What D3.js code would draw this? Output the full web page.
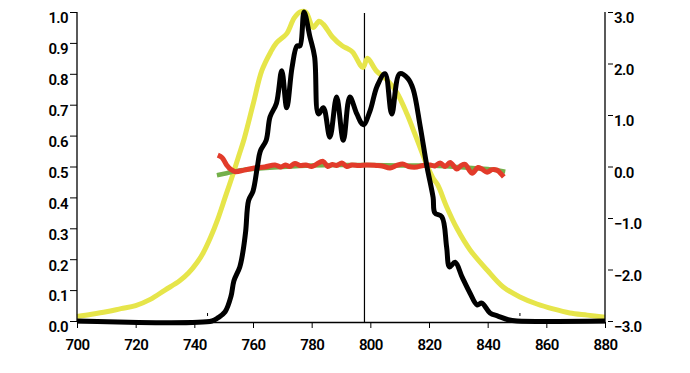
<!DOCTYPE html>
<html><head><meta charset="utf-8">
<script src="https://cdn.jsdelivr.net/npm/d3@7"></script>
<style>
html,body{margin:0;padding:0;background:#fff;}
svg text{font-family:Roboto,"Noto Sans",sans-serif;font-weight:600;font-size:15px;fill:#000;letter-spacing:-0.6px;}
</style></head>
<body>
<svg id="c" width="690" height="373"></svg>
<script>
// ---- data ----
const xTicks = [700,720,740,760,780,800,820,840,860,880];
const leftTicks = [0,0.1,0.2,0.3,0.4,0.5,0.6,0.7,0.8,0.9,1.0];
const rightTicks = [-3,-2,-1,0,1,2,3];
const markerLineWl = 798;
const smallMarkWl = [744.5, 851];

const yellowWl = [700,705,710,715,720,725,730,735,738,741,743,745.5,748,750.5,753,755,757,760,763,766,768,771.5,774,776,778,780.5,782.5,784,787,790.5,792.5,794,797.5,799,802,805.7,809,812.5,815,817,819.5,821.5,823,826,829.5,834,839.8,845.3,851,856.8,862.3,868,874,880];
const yellowVal = [0.015,0.022,0.03,0.04,0.05,0.07,0.10,0.13,0.155,0.19,0.22,0.27,0.33,0.40,0.47,0.53,0.59,0.70,0.81,0.87,0.90,0.93,0.98,1.0,1.0,0.95,0.97,0.96,0.92,0.89,0.88,0.87,0.82,0.85,0.81,0.78,0.74,0.67,0.61,0.56,0.50,0.46,0.44,0.37,0.30,0.23,0.165,0.11,0.078,0.055,0.039,0.026,0.019,0.012];

const blackWl = [700,746,748,750.5,752.5,753.5,755.5,756.5,757.5,758.5,760,761.5,762.5,764.5,765.8,768,769.8,771.5,773.3,775,776,777.4,779.4,781,782.3,784,786.2,788.5,790.8,793,795.4,797.6,799.9,802.3,805,807.3,810,812.8,814.6,817,819.3,821.4,822,824.4,826,827,828.9,831.3,834,836.4,838,840.8,843.5,847,850,880];
const blackVal = [0,0,0.01,0.03,0.08,0.13,0.175,0.22,0.29,0.39,0.42,0.50,0.55,0.585,0.66,0.705,0.81,0.69,0.82,0.89,0.89,1.0,0.92,0.855,0.67,0.69,0.595,0.725,0.585,0.725,0.67,0.635,0.68,0.76,0.80,0.67,0.80,0.785,0.75,0.63,0.50,0.40,0.35,0.337,0.24,0.175,0.19,0.142,0.09,0.052,0.058,0.026,0.016,0.004,0,0];

const greenWl = [747.7,751,755,760,770,780,790,800,810,820,830,840,846];
const greenVal = [-0.17,-0.13,-0.08,-0.05,-0.01,0.02,0.03,0.03,0.02,0.02,-0.01,-0.05,-0.1];

const redWl = [748,749.5,751,752.5,754,757,760.5,764,767.5,769.5,771,772.5,774.3,776,778,780,781.5,783.9,785.5,787,788.5,790.3,792,793.7,796,798.8,802,804,806.7,809,811,813,815.9,818,820.4,822,823.8,825.5,827.2,829.5,831,832.3,834.7,836.7,838,839.8,841.5,843.2,844.2,845.5];
const redVal = [0.22,0.17,0.03,-0.06,-0.1,-0.07,-0.03,-0.01,0.03,-0.01,0.03,0.0,0.06,0.02,0.03,0.0,0.04,0.1,0.0,0.04,0.02,0.07,0.0,0.03,0.02,0.03,0.02,0.01,-0.03,0.02,0.05,0.0,-0.01,0.02,0.03,0.01,0.07,0.0,0.08,-0.05,0.02,0.04,-0.13,-0.02,-0.05,-0.11,-0.06,-0.07,-0.12,-0.2];

// ---- layout ----
const L = 77, R = 605, T = 12, B = 321;
const svg = d3.select("#c");
svg.append("rect").attr("width",690).attr("height",373).attr("fill","#fff");

const x = d3.scaleLinear().domain([700,880]).range([L,R]);
const yL = d3.scaleLinear().domain([0,1]).range([B,T]);
const yR = d3.scaleLinear().domain([-3,3]).range([B,T]);

function zip(a,b){return a.map((v,i)=>[v,b[i]]);}

// vertical marker line
svg.append("line").attr("x1",x(markerLineWl)).attr("x2",x(markerLineWl))
  .attr("y1",T+1).attr("y2",B+1).attr("stroke","#000").attr("stroke-width",1.2);

const lineL = d3.line().x(d=>x(d[0])).y(d=>yL(d[1])).curve(d3.curveCatmullRom.alpha(0.5));
const lineR = d3.line().x(d=>x(d[0])).y(d=>yR(d[1])).curve(d3.curveCatmullRom.alpha(0.5));

svg.append("path").datum(zip(yellowWl,yellowVal)).attr("d",lineL)
  .attr("fill","none").attr("stroke","#e6e54a").attr("stroke-width",5).attr("stroke-linejoin","round");
svg.append("path").datum(zip(greenWl,greenVal)).attr("d",lineR)
  .attr("fill","none").attr("stroke","#74b04a").attr("stroke-width",4.5);
svg.append("path").datum(zip(redWl,redVal)).attr("d",lineR)
  .attr("fill","none").attr("stroke","#e23b2a").attr("stroke-width",5).attr("stroke-linejoin","round");
svg.append("path").datum(zip(blackWl,blackVal)).attr("d",lineL)
  .attr("fill","none").attr("stroke","#000").attr("stroke-width",5).attr("stroke-linejoin","round");

// small marks
svg.selectAll("line.sm").data(smallMarkWl).enter().append("line")
  .attr("x1",d=>x(d)).attr("x2",d=>x(d)).attr("y1",B-8).attr("y2",B-5)
  .attr("stroke","#000").attr("stroke-width",1);

// axes
const gx = svg.append("g").attr("transform",`translate(0,${B+1})`)
  .call(d3.axisBottom(x).tickValues(xTicks).tickFormat(d3.format("d")).tickSize(6).tickSizeOuter(0));
const gl = svg.append("g").attr("transform",`translate(${L},0)`)
  .call(d3.axisLeft(yL).tickValues(leftTicks).tickFormat(d3.format(".1f")).tickSize(7).tickSizeOuter(0));
const gr = svg.append("g").attr("transform",`translate(${R},0)`)
  .call(d3.axisRight(yR).tickValues(rightTicks).tickFormat(d3.format(".1f")).tickSize(7).tickSizeOuter(0));

[gx,gl,gr].forEach(g=>{
  g.select(".domain").attr("stroke","#000").attr("stroke-width",1.3);
  g.selectAll(".tick line").attr("stroke","#000").attr("stroke-width",1);
  g.selectAll("text").attr("font-family",null).attr("font-size",null).attr("fill","#000");
});
gl.select(".domain").attr("d",`M0,${T}V${B+1}`);
gr.select(".domain").attr("d",`M0,${T}V${B+1}`);
gx.selectAll("text").attr("dy","0.71em").attr("y",17);
gl.selectAll("text").attr("x",-9).attr("dy","0.72em").attr("y",0);
gr.selectAll(".tick line").attr("x1",3).attr("x2",8);
gr.selectAll("text").attr("x",9).attr("dy","0.72em").attr("y",0);
</script>
</body></html>
